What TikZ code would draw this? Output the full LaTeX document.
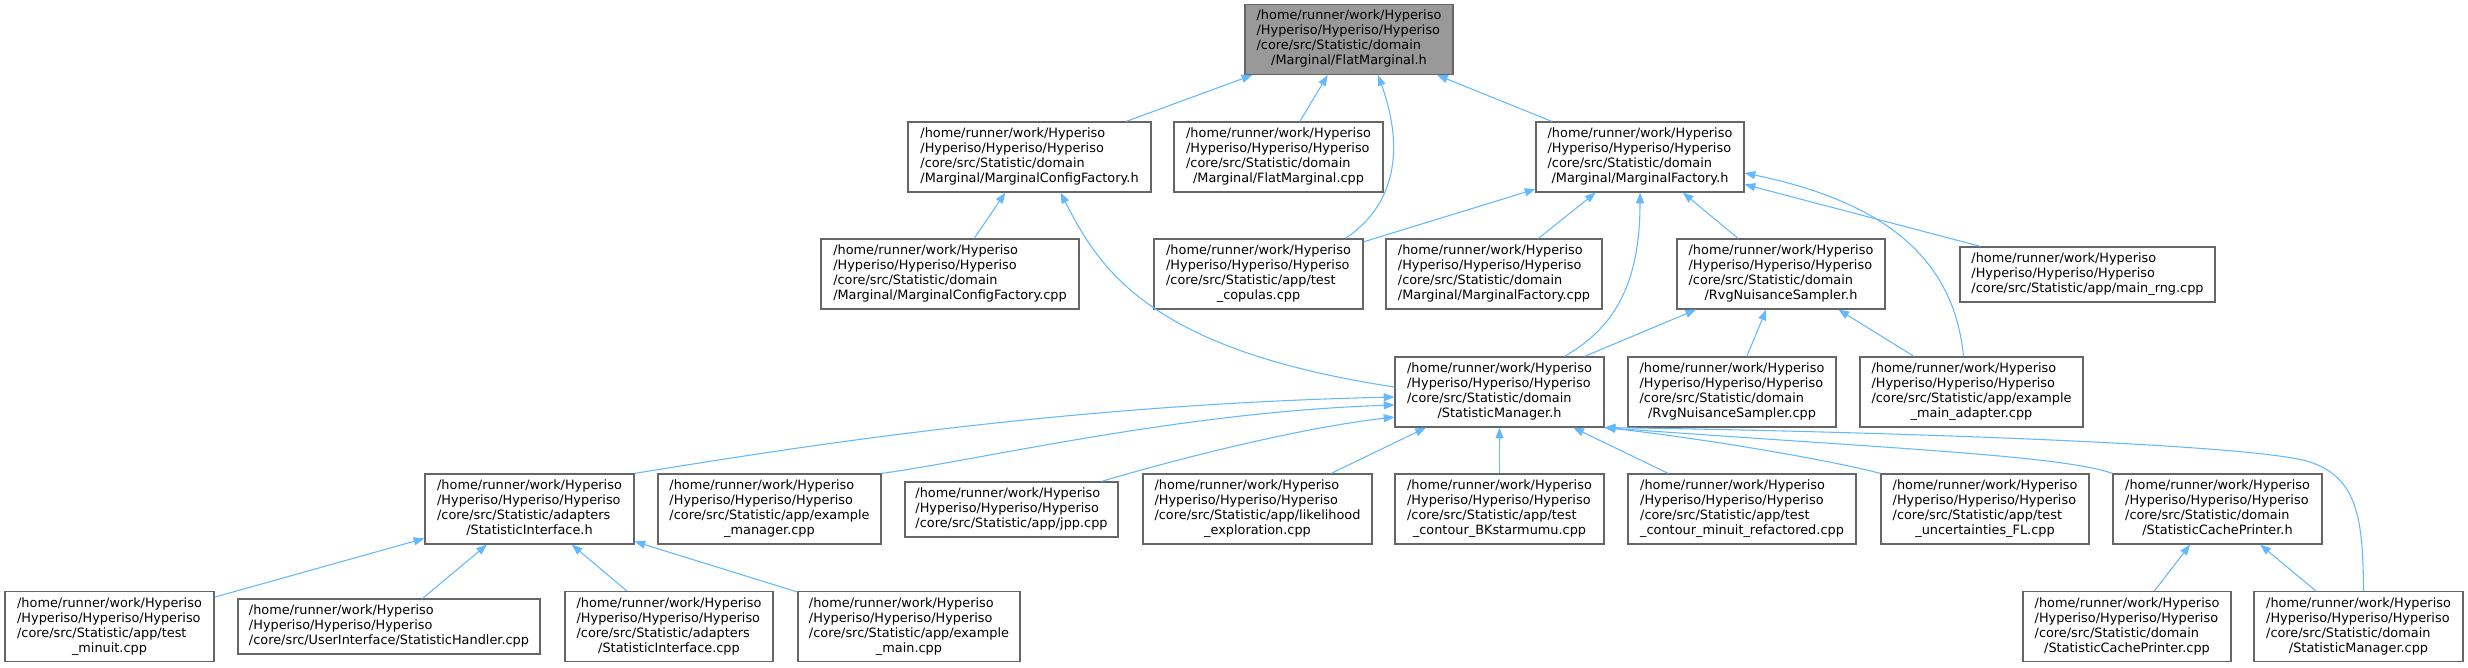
\documentclass[tikz,border=0pt]{standalone}
\usepackage{fontspec}
\setmainfont{DejaVu Sans}
\usepackage{xcolor}
\usepackage{tikz}
\usetikzlibrary{arrows.meta, calc}
\definecolor{edgeblue}{HTML}{63B8FF}
\definecolor{boxgray}{HTML}{666666}
\definecolor{rootgray}{HTML}{999999}

% file labels: two fixed lines, the rest per file, last line centred
\newcommand{\fourline}[2]{\begin{tabular}{@{}l@{}}/home/runner/work/Hyperiso\\/Hyperiso/Hyperiso/Hyperiso\\#1\\\multicolumn{1}{@{}c@{}}{#2}\end{tabular}}
\newcommand{\threeline}[1]{\begin{tabular}{@{}l@{}}/home/runner/work/Hyperiso\\/Hyperiso/Hyperiso/Hyperiso\\\multicolumn{1}{@{}c@{}}{#1}\end{tabular}}

\begin{document}
\begin{tikzpicture}[x=0.75pt, y=-0.75pt]
    % Styles
    \tikzstyle{file} = [rectangle, draw=boxgray, fill=white, line width=0.9pt, inner sep=0pt, minimum height=52.5pt, font=\fontsize{9.65}{11.25}\selectfont]
    \tikzstyle{short} = [file, minimum height=41.25pt]
    \tikzstyle{current} = [file, fill=rootgray]
    \tikzstyle{edge} = [draw=edgeblue, line width=0.8pt, ->, >={Triangle[length=8pt, width=6pt]}]

    \useasboundingbox (0,0) rectangle (2468,667);

    % Nodes - row by row, at the pixel centres
    \node[current, minimum width=156pt] (root) at (1349,39.5) {\fourline{/core/src/Statistic/domain}{/Marginal/FlatMarginal.h}};

    \node[file, minimum width=182.25pt] (mcfh) at (1029.5,157) {\fourline{/core/src/Statistic/domain}{/Marginal/MarginalConfigFactory.h}};
    \node[file, minimum width=156.75pt] (fmcpp) at (1278.5,157) {\fourline{/core/src/Statistic/domain}{/Marginal/FlatMarginal.cpp}};
    \node[file, minimum width=156pt] (mfh) at (1640,157) {\fourline{/core/src/Statistic/domain}{/Marginal/MarginalFactory.h}};

    \node[file, minimum width=193.5pt] (mcfcpp) at (950,274) {\fourline{/core/src/Statistic/domain}{/Marginal/MarginalConfigFactory.cpp}};
    \node[file, minimum width=156.75pt] (copulas) at (1258.5,274) {\fourline{/core/src/Statistic/app/test}{\_copulas.cpp}};
    \node[file, minimum width=162pt] (mfcpp) at (1494,274) {\fourline{/core/src/Statistic/domain}{/Marginal/MarginalFactory.cpp}};
    \node[file, minimum width=156pt] (rvgh) at (1781,274) {\fourline{/core/src/Statistic/domain}{/RvgNuisanceSampler.h}};
    \node[short, minimum width=191.25pt] (mainrng) at (2087.5,274.5) {\threeline{/core/src/Statistic/app/main\_rng.cpp}};

    \node[file, minimum width=156.75pt] (smh) at (1499.5,392) {\fourline{/core/src/Statistic/domain}{/StatisticManager.h}};
    \node[file, minimum width=156pt] (rvgcpp) at (1732,392) {\fourline{/core/src/Statistic/domain}{/RvgNuisanceSampler.cpp}};
    \node[file, minimum width=167.25pt] (adapter) at (1971.5,392) {\fourline{/core/src/Statistic/app/example}{\_main\_adapter.cpp}};

    \node[file, minimum width=156.75pt] (sih) at (529.5,509) {\fourline{/core/src/Statistic/adapters}{/StatisticInterface.h}};
    \node[file, minimum width=167.25pt] (exmanager) at (769.5,509) {\fourline{/core/src/Statistic/app/example}{\_manager.cpp}};
    \node[short, minimum width=159.75pt] (jpp) at (1011.5,509.5) {\threeline{/core/src/Statistic/app/jpp.cpp}};
    \node[file, minimum width=171.75pt] (likelihood) at (1257.5,509) {\fourline{/core/src/Statistic/app/likelihood}{\_exploration.cpp}};
    \node[file, minimum width=156.75pt] (bks) at (1499.5,509) {\fourline{/core/src/Statistic/app/test}{\_contour\_BKstarmumu.cpp}};
    \node[file, minimum width=171pt] (minuitref) at (1742,509) {\fourline{/core/src/Statistic/app/test}{\_contour\_minuit\_refactored.cpp}};
    \node[file, minimum width=156pt] (uncfl) at (1985,509) {\fourline{/core/src/Statistic/app/test}{\_uncertainties\_FL.cpp}};
    \node[file, minimum width=156.75pt] (scph) at (2217.5,509) {\fourline{/core/src/Statistic/domain}{/StatisticCachePrinter.h}};

    \node[file, minimum width=156.75pt] (testminuit) at (109.5,626.5) {\fourline{/core/src/Statistic/app/test}{\_minuit.cpp}};
    \node[short, minimum width=226.5pt] (handler) at (389,626.5) {\threeline{/core/src/UserInterface/StatisticHandler.cpp}};
    \node[file, minimum width=156pt] (sicpp) at (669,626.5) {\fourline{/core/src/Statistic/adapters}{/StatisticInterface.cpp}};
    \node[file, minimum width=166.5pt] (exmain) at (909,626.5) {\fourline{/core/src/Statistic/app/example}{\_main.cpp}};
    \node[file, minimum width=156pt] (scpcpp) at (2127,626.5) {\fourline{/core/src/Statistic/domain}{/StatisticCachePrinter.cpp}};
    \node[file, minimum width=156.75pt] (smcpp) at (2358.5,626.5) {\fourline{/core/src/Statistic/domain}{/StatisticManager.cpp}};

    % Arrows into FlatMarginal.h
    \draw[edge] (mcfh) -- (root);
    \draw[edge] (fmcpp) -- (root);
    \draw[edge] ($(copulas.north)+(87,0)$) .. controls (1395,205) and (1405,150) .. ($(root.south)+(29,0)$);
    \draw[edge] (mfh) -- (root);

    % Arrows into the factories
    \draw[edge] (mcfcpp) -- (mcfh);
    \draw[edge] ($(smh.west)+(0,-5)$) .. controls (1150,350) and (1100,270) .. ($(mcfh.south)+(31,0)$);
    \draw[edge] (copulas) -- (mfh);
    \draw[edge] (mfcpp) -- (mfh);
    \draw[edge] ($(smh.north)+(65,0)$) .. controls (1610,330) and (1640,290) .. (mfh.south);
    \draw[edge] (rvgh) -- (mfh);
    \draw[edge] ($(adapter.north)+(-8,0)$) .. controls (1955,270) and (1900,205) .. ($(mfh.east)+(0,16)$);
    \draw[edge] (mainrng) -- (mfh);

    % Arrows into RvgNuisanceSampler.h
    \draw[edge] (smh) -- (rvgh);
    \draw[edge] (rvgcpp) -- (rvgh);
    \draw[edge] (adapter) -- (rvgh);

    % Arrows into StatisticManager.h
    \draw[edge] (sih.north east) .. controls (780,450) and (1050,405) .. ($(smh.west)+(0,5)$);
    \draw[edge] (exmanager.north east) .. controls (980,460) and (1180,412) .. ($(smh.west)+(0,13)$);
    \draw[edge] ($(jpp.north)+(90,0)$) .. controls (1180,458) and (1300,428) .. ($(smh.west)+(0,25)$);
    \draw[edge] (likelihood) -- (smh);
    \draw[edge] (bks) -- (smh);
    \draw[edge] (minuitref) -- (smh);
    \draw[edge] (uncfl.north west) .. controls (1830,460) and (1700,438) .. (smh.south east);
    \draw[edge] (scph.north west) .. controls (2060,455) and (1880,448) .. (smh.south east);
    \draw[edge] ($(smcpp.north)+(5,0)$) .. controls (2363,520) and (2358,478) .. (2310,462) .. controls (2250,442) and (1800,430) .. (smh.south east);

    % Bottom row
    \draw[edge] (testminuit) -- (sih);
    \draw[edge] (handler) -- (sih);
    \draw[edge] (sicpp) -- (sih);
    \draw[edge] (exmain) -- (sih);
    \draw[edge] (scpcpp) -- (scph);
    \draw[edge] (smcpp) -- (scph);
\end{tikzpicture}
\end{document}
